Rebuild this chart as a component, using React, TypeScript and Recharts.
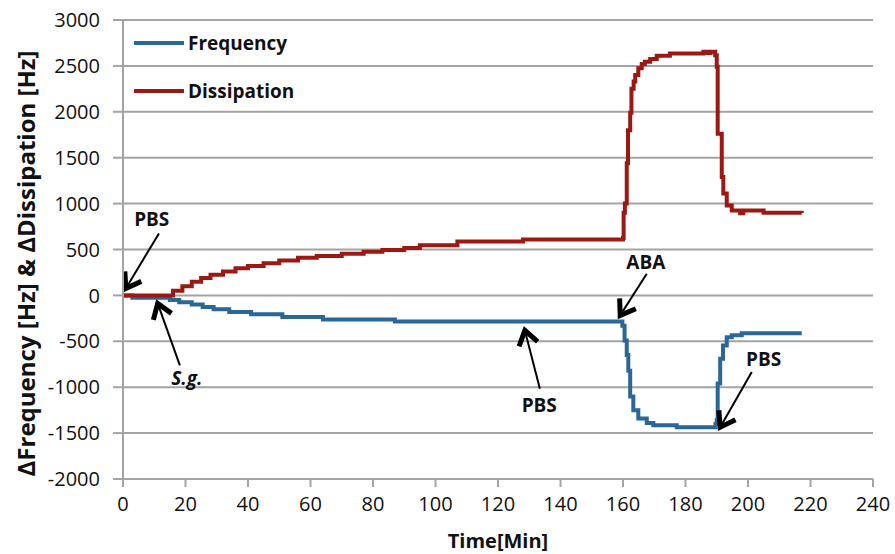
import {
  LineChart,
  Line,
  XAxis,
  YAxis,
  CartesianGrid,
  Legend,
  ReferenceLine,
  ReferenceDot,
} from "recharts";

// time [min] / value [Hz]
const freqTime = [
  0, 3, 15, 18, 22, 25.5, 29, 34, 41, 51, 64, 87, 159.8, 160.5, 161.2, 161.7,
  162.3, 163.3, 164.9, 167.6, 169.7, 177.2, 189.6, 190.0, 190.3, 191.1, 192.0,
  193.2, 194.8, 198, 217.2,
];
const freqValue = [
  0, -25, -50, -75, -100, -125, -150, -180, -205, -235, -262, -285, -330, -490,
  -650, -820, -1100, -1250, -1340, -1390, -1415, -1435, -1400, -1360, -960,
  -690, -545, -455, -435, -412, -412,
];

const dissTime = [
  0, 13.4, 16, 19, 22, 25, 28, 32, 36, 40, 45, 50, 56, 62, 70, 77, 83, 90, 95,
  107, 128, 160, 160.2, 160.6, 161.2, 161.6, 162.3, 162.7, 163.4, 163.9, 164.9,
  166, 167, 168.7, 170.8, 175, 185.7, 187, 188, 189.5, 190, 190.3, 191.6, 192.1,
  193.2, 194.8, 197.5, 198.5, 205, 217.2,
];
const dissValue = [
  0, 0, 50, 100, 150, 190, 225, 260, 295, 320, 350, 380, 410, 430, 455, 475,
  495, 515, 545, 588, 610, 625, 900, 1000, 1440, 1800, 1990, 2250, 2330, 2400,
  2475, 2520, 2545, 2575, 2610, 2635, 2655, 2640, 2655, 2615, 2490, 1760, 1290,
  1110, 980, 926, 895, 925, 900, 897,
];

const xTicks = [0, 20, 40, 60, 80, 100, 120, 140, 160, 180, 200, 220, 240];
const yTicks = [-2000, -1500, -1000, -500, 0, 500, 1000, 1500, 2000, 2500, 3000];

// annotations: text position, arrow start, arrow tip
const notes = [
  { text: "PBS", italic: false, tx: 9.2, ty: 830, x1: 11.5, y1: 675, x2: 0.9, y2: 76 },
  { text: "S.g.", italic: true, tx: 20.4, ty: -900, x1: 18.2, y1: -763, x2: 11.1, y2: -87 },
  { text: "ABA", italic: false, tx: 167.3, ty: 365, x1: 167.6, y1: 236, x2: 159.1, y2: -218 },
  { text: "PBS", italic: false, tx: 133.2, ty: -1198, x1: 133.4, y1: -1016, x2: 128.6, y2: -381 },
  { text: "PBS", italic: false, tx: 205, ty: -690, x1: 201.2, y1: -835, x2: 191.1, y2: -1435 },
];

const BLUE = "#2a6797";
const RED = "#9c1812";
const GRID = "#a3a3a3";
const FONT = "'Open Sans', sans-serif";

const freqData = freqTime.map((t, i) => ({ t, v: freqValue[i] }));
const dissData = dissTime.map((t, i) => ({ t, v: dissValue[i] }));

const Arrow = (props: any) => {
  const { x1, y1, x2, y2 } = props;
  const ang = Math.atan2(y2 - y1, x2 - x1);
  const len = 17;
  const spread = 0.6;
  const a1 = ang + Math.PI - spread;
  const a2 = ang + Math.PI + spread;
  return (
    <g>
      <line x1={x1} y1={y1} x2={x2} y2={y2} stroke="#000" strokeWidth={2} />
      <polyline
        points={`${x2 + len * Math.cos(a1)},${y2 + len * Math.sin(a1)} ${x2},${y2} ${
          x2 + len * Math.cos(a2)
        },${y2 + len * Math.sin(a2)}`}
        fill="none"
        stroke="#000"
        strokeWidth={5}
      />
    </g>
  );
};

const legendItems = [
  { name: "Frequency", color: BLUE },
  { name: "Dissipation", color: RED },
];

const renderLegend = () => (
  <div>
    {legendItems.map((s) => (
      <div
        key={s.name}
        style={{ display: "flex", alignItems: "center", height: 48 }}
      >
        <svg width={50} height={8}>
          <line x1={0} y1={4} x2={50} y2={4} stroke={s.color} strokeWidth={4} />
        </svg>
        <span
          style={{
            marginLeft: 4,
            fontFamily: FONT,
            fontWeight: 700,
            fontSize: 19,
            color: "#111",
          }}
        >
          {s.name}
        </span>
      </div>
    ))}
  </div>
);

export default function App() {
  return (
    <div style={{ position: "absolute", left: 0, top: 0, background: "#fff" }}>
      <LineChart
        width={895}
        height={554}
        margin={{ top: 20, right: 22, bottom: 0, left: 0 }}
      >
        <CartesianGrid vertical={false} stroke={GRID} strokeWidth={2} />
        <XAxis
          type="number"
          dataKey="t"
          domain={[0, 240]}
          ticks={xTicks}
          height={75}
          stroke={GRID}
          strokeWidth={2}
          tickSize={8}
          tickMargin={10}
          tick={{ fill: "#111", fontSize: 20, fontFamily: FONT }}
          label={{
            content: ({ viewBox }: any) => (
              <text
                x={viewBox.x + viewBox.width / 2}
                y={viewBox.y + 69}
                textAnchor="middle"
                fontFamily={FONT}
                fontWeight={700}
                fontSize={20}
                fill="#111"
              >
                Time[Min]
              </text>
            ),
          }}
        />
        <YAxis
          type="number"
          domain={[-2000, 3000]}
          ticks={yTicks}
          width={123}
          stroke={GRID}
          strokeWidth={2}
          tickSize={10}
          tickMargin={13}
          tick={{ fill: "#111", fontSize: 20, fontFamily: FONT }}
          label={{
            content: ({ viewBox }: any) => {
              const cx = 25;
              const cy = viewBox.y + viewBox.height / 2 + 14;
              return (
                <text
                  x={cx}
                  y={cy}
                  transform={`rotate(-90, ${cx}, ${cy})`}
                  textAnchor="middle"
                  dominantBaseline="central"
                  fontFamily={FONT}
                  fontWeight={700}
                  fontSize={24}
                  fill="#111"
                >
                  ΔFrequency [Hz] &amp; ΔDissipation [Hz]
                </text>
              );
            },
          }}
        />
        <Legend
          layout="vertical"
          verticalAlign="middle"
          align="center"
          content={renderLegend}
          wrapperStyle={{ top: 19, left: 134, width: "auto" }}
        />
        <Line
          data={freqData}
          dataKey="v"
          name="Frequency"
          type="stepAfter"
          stroke={BLUE}
          strokeWidth={4}
          dot={false}
          isAnimationActive={false}
        />
        <Line
          data={dissData}
          dataKey="v"
          name="Dissipation"
          type="stepAfter"
          stroke={RED}
          strokeWidth={4}
          dot={false}
          isAnimationActive={false}
        />
        {notes.map((n, i) => (
          <ReferenceLine
            key={`a${i}`}
            segment={[
              { x: n.x1, y: n.y1 },
              { x: n.x2, y: n.y2 },
            ]}
            shape={Arrow}
          />
        ))}
        {notes.map((n, i) => (
          <ReferenceDot
            key={`t${i}`}
            x={n.tx}
            y={n.ty}
            r={0}
            shape={(p: any) => (
              <text
                x={p.cx}
                y={p.cy}
                textAnchor="middle"
                dominantBaseline="central"
                fontFamily={FONT}
                fontWeight={700}
                fontStyle={n.italic ? "italic" : "normal"}
                fontSize={19}
                fill="#111"
              >
                {n.text}
              </text>
            )}
          />
        ))}
      </LineChart>
    </div>
  );
}
